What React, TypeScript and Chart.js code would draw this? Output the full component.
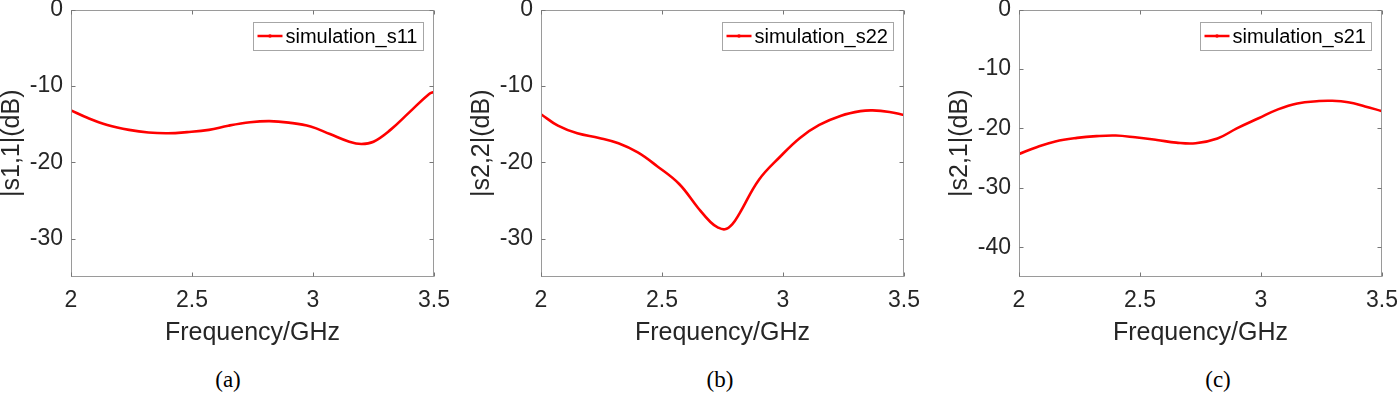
import React, { useEffect, useRef } from 'react';
import { Chart, registerables } from 'chart.js';

Chart.register(...registerables);

// ---- data ----
const FREQ_S11 = [2.0, 2.07, 2.15, 2.24, 2.32, 2.4, 2.48, 2.57, 2.65, 2.74, 2.82, 2.9, 2.99, 3.07, 3.15, 3.2, 3.25, 3.32, 3.4, 3.48, 3.5];
const S11 = [-13.2, -14.2, -15.1, -15.75, -16.1, -16.2, -16.05, -15.75, -15.2, -14.75, -14.6, -14.8, -15.3, -16.3, -17.3, -17.6, -17.3, -15.75, -13.4, -11.05, -10.8];

const FREQ_S22 = [2.0, 2.07, 2.15, 2.24, 2.32, 2.4, 2.48, 2.57, 2.65, 2.7, 2.73, 2.76, 2.79, 2.82, 2.9, 2.99, 3.07, 3.15, 3.24, 3.32, 3.37, 3.44, 3.5];
const S22 = [-13.7, -15.2, -16.2, -16.8, -17.5, -18.7, -20.5, -22.8, -26.0, -27.8, -28.5, -28.75, -28.1, -26.7, -22.3, -19.2, -16.8, -15.1, -13.9, -13.3, -13.2, -13.4, -13.8];

const FREQ_S21 = [2.0, 2.07, 2.15, 2.24, 2.32, 2.4, 2.48, 2.57, 2.65, 2.73, 2.82, 2.9, 2.99, 3.07, 3.15, 3.24, 3.29, 3.36, 3.43, 3.5];
const S21 = [-24.3, -23.2, -22.2, -21.6, -21.3, -21.2, -21.5, -21.95, -22.4, -22.5, -21.7, -20.0, -18.3, -16.8, -15.8, -15.4, -15.35, -15.6, -16.3, -17.1];

const X_TICKS = [2, 2.5, 3, 3.5];
const Y_TICKS_AB = [-30, -20, -10, 0];
const Y_TICKS_C = [-40, -30, -20, -10, 0];

const SERIES_LABELS = ['simulation_s11', 'simulation_s22', 'simulation_s21'];
const Y_TITLES = ['|s1,1|(dB)', '|s2,2|(dB)', '|s2,1|(dB)'];
const X_TITLE = 'Frequency/GHz';
const CAPTIONS = ['(a)', '(b)', '(c)'];

const SANS = '"Liberation Sans", Arial, sans-serif';
const TEXT_COLOR = '#262626';
const BOX_COLOR = '#9a9a9a';

const boxPlugin = {
  id: 'matlabBox',
  afterDraw(chart: any) {
    const { ctx, chartArea } = chart;
    const l = Math.round(chartArea.left) + 0.5;
    const r = Math.round(chartArea.right) - 0.5;
    const t = Math.round(chartArea.top) + 0.5;
    const b = Math.round(chartArea.bottom) - 0.5;
    ctx.save();
    ctx.strokeStyle = BOX_COLOR;
    ctx.lineWidth = 1;
    ctx.strokeRect(l, t, r - l, b - t);
    // inward ticks
    const xs = chart.scales.x;
    const ys = chart.scales.y;
    const tl = 4;
    ctx.strokeStyle = '#777';
    ctx.beginPath();
    xs.ticks.forEach((tk: any) => {
      const px = Math.round(xs.getPixelForValue(tk.value)) + 0.5;
      ctx.moveTo(px, b);
      ctx.lineTo(px, b - tl);
      ctx.moveTo(px, t);
      ctx.lineTo(px, t + tl);
    });
    ys.ticks.forEach((tk: any) => {
      const py = Math.round(ys.getPixelForValue(tk.value)) + 0.5;
      ctx.moveTo(l, py);
      ctx.lineTo(l + tl, py);
      ctx.moveTo(r, py);
      ctx.lineTo(r - tl, py);
    });
    ctx.stroke();

    // legend inside the axes, top-right
    const ds = chart.data.datasets[0];
    ctx.font = `20px ${SANS}`;
    const tw = ctx.measureText(ds.label).width;
    const boxW = Math.round(32 + tw + 6);
    const boxH = 28;
    const x0 = Math.round(chartArea.right - 11 - boxW) + 0.5;
    const y0 = Math.round(chartArea.top + 12) + 0.5;
    ctx.fillStyle = '#ffffff';
    ctx.fillRect(x0, y0, boxW, boxH);
    ctx.strokeStyle = '#a6a6a6';
    ctx.lineWidth = 1;
    ctx.strokeRect(x0, y0, boxW, boxH);
    const ly = y0 + 13.5;
    ctx.strokeStyle = ds.borderColor;
    ctx.lineWidth = 2.5;
    ctx.beginPath();
    ctx.moveTo(x0 + 4, ly);
    ctx.lineTo(x0 + 29, ly);
    ctx.stroke();
    ctx.fillStyle = ds.borderColor;
    ctx.beginPath();
    ctx.arc(x0 + 16.5, ly, 1.8, 0, Math.PI * 2);
    ctx.fill();
    ctx.fillStyle = '#000';
    ctx.textBaseline = 'middle';
    ctx.textAlign = 'left';
    ctx.fillText(ds.label, x0 + 32, ly + 1);
    ctx.restore();
  },
};

type PanelProps = {
  left: number;
  freqs: number[];
  values: number[];
  label: string;
  yTitle: string;
  yMin: number;
  yTicks: number[];
};

const CANVAS_W = 451;
const CANVAS_H = 348;

function Panel({ left, freqs, values, label, yTitle, yMin, yTicks }: PanelProps) {
  const ref = useRef<HTMLCanvasElement | null>(null);
  useEffect(() => {
    if (!ref.current) return;
    const chart = new Chart(ref.current, {
      type: 'line',
      data: {
        datasets: [
          {
            label,
            data: freqs.map((f, i) => ({ x: f, y: values[i] })),
            borderColor: '#ff0000',
            backgroundColor: '#ff0000',
            borderWidth: 2.6,
            pointRadius: 0,
            tension: 0.4,
            fill: false,
          },
        ],
      },
      options: {
        responsive: false,
        animation: false,
        devicePixelRatio: 1,
        layout: { padding: { top: 9.5, right: 17, bottom: 0, left: 0 } },
        plugins: { legend: { display: false }, tooltip: { enabled: false } },
        scales: {
          x: {
            type: 'linear',
            position: 'bottom',
            min: 2,
            max: 3.5,
            afterBuildTicks: (s: any) => {
              s.ticks = X_TICKS.map((v) => ({ value: v }));
            },
            afterFit: (s: any) => {
              s.height = 71;
              s.paddingLeft = 0;
              s.paddingRight = 0;
            },
            grid: { display: false, drawTicks: false },
            border: { display: false },
            ticks: {
              autoSkip: false,
              maxRotation: 0,
              padding: 10,
              color: TEXT_COLOR,
              font: { family: SANS, size: 23 },
              callback: (v: any) => String(v),
            },
            title: {
              display: true,
              text: X_TITLE,
              color: TEXT_COLOR,
              font: { family: SANS, size: 25, lineHeight: 1.2 },
              padding: 0,
            },
          },
          y: {
            type: 'linear',
            min: yMin,
            max: 0,
            afterBuildTicks: (s: any) => {
              s.ticks = yTicks.map((v) => ({ value: v }));
            },
            afterFit: (s: any) => {
              s.width = 71;
              s.paddingTop = 0;
              s.paddingBottom = 0;
            },
            grid: { display: false, drawTicks: false },
            border: { display: false },
            ticks: {
              autoSkip: false,
              padding: 8,
              color: TEXT_COLOR,
              font: { family: SANS, size: 23 },
              callback: (v: any) => String(v),
            },
            title: {
              display: true,
              text: yTitle,
              color: TEXT_COLOR,
              font: { family: SANS, size: 25, lineHeight: 1 },
              padding: 0,
            },
          },
        },
      },
      plugins: [boxPlugin],
    } as any);
    return () => chart.destroy();
  }, []);
  return (
    <div style={{ position: 'absolute', left, top: 0, width: CANVAS_W, height: CANVAS_H }}>
      <canvas ref={ref} width={CANVAS_W} height={CANVAS_H} style={{ width: CANVAS_W, height: CANVAS_H, display: 'block' }} />
    </div>
  );
}

const CAPTION_X = [228, 720, 1218];

export default function App() {
  return (
    <div
      style={{
        position: 'absolute',
        left: 0,
        top: 0,
        width: 1400,
        height: 393,
        overflow: 'hidden',
        background: '#ffffff',
      }}
    >
      <Panel left={0} freqs={FREQ_S11} values={S11} label={SERIES_LABELS[0]} yTitle={Y_TITLES[0]} yMin={-35} yTicks={Y_TICKS_AB} />
      <Panel left={470} freqs={FREQ_S22} values={S22} label={SERIES_LABELS[1]} yTitle={Y_TITLES[1]} yMin={-35} yTicks={Y_TICKS_AB} />
      <Panel left={948} freqs={FREQ_S21} values={S21} label={SERIES_LABELS[2]} yTitle={Y_TITLES[2]} yMin={-45} yTicks={Y_TICKS_C} />
      {CAPTIONS.map((c, i) => (
        <div
          key={c}
          style={{
            position: 'absolute',
            left: CAPTION_X[i],
            top: 368,
            transform: 'translateX(-50%)',
            fontFamily: '"Liberation Serif", "Times New Roman", serif',
            fontSize: 23,
            lineHeight: '24px',
            color: '#000',
            whiteSpace: 'nowrap',
          }}
        >
          {c}
        </div>
      ))}
    </div>
  );
}
